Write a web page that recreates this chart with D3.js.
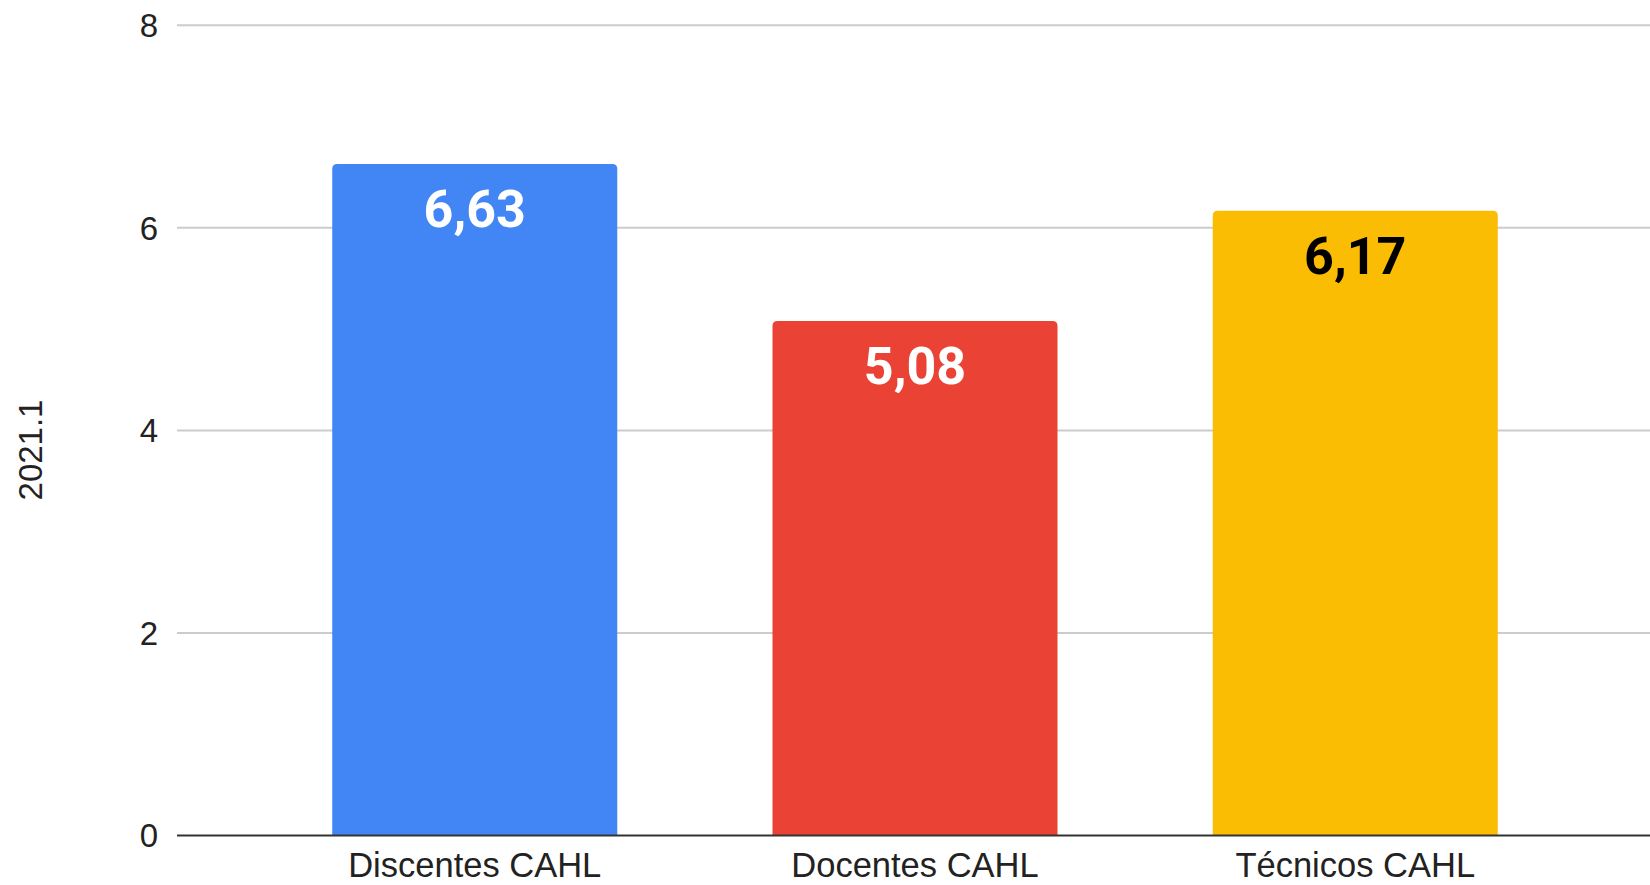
<!DOCTYPE html>
<html>
<head>
<meta charset="utf-8">
<script src="https://cdn.jsdelivr.net/npm/d3@7"></script>
<style>
  html, body { margin: 0; padding: 0; background: #fff; }
  svg { display: block; }
</style>
</head>
<body>
<script>
const categories = ["Discentes CAHL", "Docentes CAHL", "Técnicos CAHL"];
const values = [6.63, 5.08, 6.17];
const barColors = ["#4285F4", "#EA4335", "#FBBC04"];
const labelColors = ["#ffffff", "#ffffff", "#000000"];
const yTicks = [0, 2, 4, 6, 8];
const yTitle = "2021.1";

const W = 1650, H = 885;
const svg = d3.select("body").append("svg").attr("width", W).attr("height", H);

const x = d3.scaleBand().domain(categories).range([177, 1653]).paddingInner(0.3526).paddingOuter(0.3526);
const y = d3.scaleLinear().domain([0, 8]).range([835.5, 25.3]);

// gridlines
svg.append("g").selectAll("line").data(yTicks.filter(d => d !== 0)).join("line")
  .attr("x1", 177).attr("x2", W)
  .attr("y1", d => y(d)).attr("y2", d => y(d))
  .attr("stroke", "#cccccc").attr("stroke-width", 2);

// y tick labels
svg.append("g").selectAll("text").data(yTicks).join("text")
  .attr("x", 158).attr("y", d => y(d)).attr("dy", "0.36em")
  .attr("text-anchor", "end")
  .attr("font-family", "'Liberation Sans', Arial, sans-serif")
  .attr("font-size", 33).attr("fill", "#222")
  .text(d => d);

// bars with rounded top corners
function barPath(x0, w, yTop, yBase, r) {
  return `M${x0},${yBase} L${x0},${yTop + r} Q${x0},${yTop} ${x0 + r},${yTop} L${x0 + w - r},${yTop} Q${x0 + w},${yTop} ${x0 + w},${yTop + r} L${x0 + w},${yBase} Z`;
}
svg.append("g").selectAll("path").data(values).join("path")
  .attr("d", (d, i) => barPath(x(categories[i]), x.bandwidth(), y(d), y(0), 5))
  .attr("fill", (d, i) => barColors[i]);

// baseline
svg.append("line").attr("x1", 177).attr("x2", W).attr("y1", y(0)).attr("y2", y(0))
  .attr("stroke", "#333333").attr("stroke-width", 2);

// value labels
svg.append("g").selectAll("text").data(values).join("text")
  .attr("x", (d, i) => x(categories[i]) + x.bandwidth() / 2)
  .attr("y", d => y(d) + 63)
  .attr("text-anchor", "middle")
  .attr("font-family", "Roboto, 'Liberation Sans', sans-serif")
  .attr("font-weight", "bold").attr("font-size", 52)
  .attr("fill", (d, i) => labelColors[i])
  .text(d => d.toFixed(2).replace(".", ","));

// category labels
svg.append("g").selectAll("text").data(categories).join("text")
  .attr("x", d => x(d) + x.bandwidth() / 2).attr("y", 877)
  .attr("text-anchor", "middle")
  .attr("font-family", "'Liberation Sans', Arial, sans-serif")
  .attr("font-size", 34.5).attr("fill", "#222")
  .text(d => d);

// y title
svg.append("text")
  .attr("transform", "translate(42,450) rotate(-90)")
  .attr("text-anchor", "middle")
  .attr("font-family", "'Liberation Sans', Arial, sans-serif")
  .attr("font-size", 33).attr("fill", "#222")
  .text(yTitle);
</script>
</body>
</html>
